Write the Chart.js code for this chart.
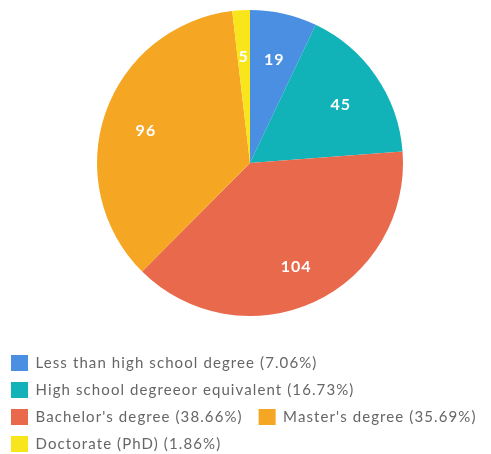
<!DOCTYPE html>
<html>
<head>
<meta charset="utf-8">
<script src="https://cdn.jsdelivr.net/npm/chart.js@4.4.1/dist/chart.umd.min.js"></script>
<style>
  html, body { margin: 0; padding: 0; background: #ffffff; overflow: hidden; }
  #wrap { width: 500px; height: 462px; }
</style>
</head>
<body>
<div id="wrap"><canvas id="c" width="500" height="462"></canvas></div>
<script>
// Education level of respondents
const categories = [
  "Less than high school degree",
  "High school degreeor equivalent",
  "Bachelor's degree",
  "Master's degree",
  "Doctorate (PhD)"
];
const counts = [19, 45, 104, 96, 5];
const sliceColors = ["#4A8FE2", "#12B3B8", "#E8694B", "#F5A623", "#F8E51C"];

const total = counts.reduce((a, b) => a + b, 0);
const pct = v => (v / total * 100).toFixed(2) + "%";

// Slightly tracked-out lettering for the legend text
const tracking = {
  id: "tracking",
  beforeLayout(chart) { chart.ctx.letterSpacing = "1.1px"; },
  beforeDraw(chart) { chart.ctx.letterSpacing = "1.1px"; }
};

// Writes each count inside its slice, part-way out from the centre
const sliceValues = {
  id: "sliceValues",
  afterDatasetsDraw(chart) {
    const ctx = chart.ctx;
    const meta = chart.getDatasetMeta(0);
    ctx.save();
    ctx.letterSpacing = "1px";
    ctx.fillStyle = "#ffffff";
    ctx.font = "bold 16px Lato";
    ctx.textAlign = "center";
    ctx.textBaseline = "middle";
    meta.data.forEach((arc, i) => {
      const p = arc.getProps(["x", "y", "startAngle", "endAngle", "outerRadius"], true);
      const mid = (p.startAngle + p.endAngle) / 2;
      const d = p.outerRadius * 0.72;
      ctx.fillText(String(counts[i]), p.x + Math.cos(mid) * d, p.y + Math.sin(mid) * d + 4);
    });
    ctx.restore();
  }
};

new Chart(document.getElementById("c"), {
  type: "pie",
  data: {
    labels: categories,
    datasets: [{
      data: counts,
      backgroundColor: sliceColors,
      borderWidth: 0,
      radius: 153
    }]
  },
  options: {
    responsive: false,
    animation: false,
    layout: { padding: 0 },
    plugins: {
      tooltip: { enabled: false },
      legend: {
        position: "bottom",
        align: "start",
        title: {
          display: true,
          text: "",
          font: { size: 10, lineHeight: 1 },
          padding: 4
        },
        labels: {
          boxWidth: 17,
          boxHeight: 16,
          padding: 11,
          color: "#6b6b6b",
          font: { family: "Lato", size: 15 },
          generateLabels(chart) {
            return categories.map((name, i) => ({
              text: name + " (" + pct(counts[i]) + ") ",
              fillStyle: sliceColors[i],
              strokeStyle: sliceColors[i],
              lineWidth: 0,
              hidden: false,
              index: i
            }));
          }
        }
      }
    }
  },
  plugins: [tracking, sliceValues]
});
</script>
</body>
</html>
